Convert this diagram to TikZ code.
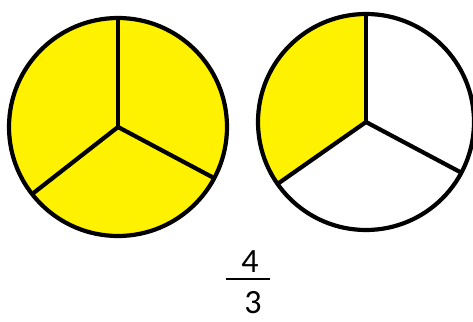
\documentclass[tikz,border=0pt]{standalone}
\usepackage{fontspec}
\setmainfont{Carlito}
\begin{document}
\begin{tikzpicture}[x=1pt,y=1pt,line width=4.2pt,
  part/.style={fill=yellow},
  digit/.style={inner sep=0pt,font=\fontsize{34}{34}\selectfont}]
  \useasboundingbox (0,0) rectangle (473,321);
  \coordinate (L) at (118,194);
  \coordinate (R) at (366,199);
  % left circle: three thirds
  \fill[part] (L) circle (109);
  \draw (L) circle (109);
  \draw (L) -- +(90:109);
  \draw (L) -- +(218:109);
  \draw (L) -- +(332:109);
  % right circle: one third
  \fill[part] (R) -- +(90:108) arc (90:215:108) -- cycle;
  \draw (R) circle (108);
  \draw (R) -- +(90:108);
  \draw (R) -- +(215:108);
  \draw (R) -- +(332:108);
  % fraction
  \node[digit] (num) at (250,59) {4};
  \node[digit] (den) at (253,18) {3};
  \draw[line width=1.8pt] (226,42) -- (270,42);
\end{tikzpicture}
\end{document}
